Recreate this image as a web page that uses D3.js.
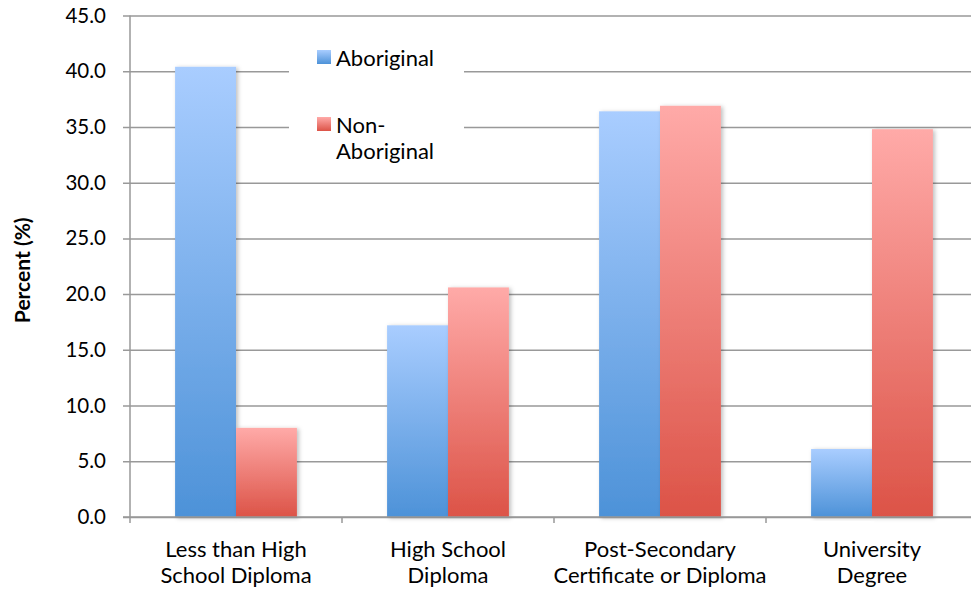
<!DOCTYPE html>
<html>
<head>
<meta charset="utf-8">
<script src="https://cdn.jsdelivr.net/npm/d3@7"></script>
<style>
  html, body { margin: 0; padding: 0; background: #fff; }
  svg { display: block; font-family: Lato, "Open Sans", sans-serif; }
</style>
</head>
<body>
<svg id="chart" width="971" height="591"></svg>
<script>
// Education attainment by group (percent)
const categories = [
  ["Less than High", "School Diploma"],
  ["High School", "Diploma"],
  ["Post-Secondary", "Certificate or Diploma"],
  ["University", "Degree"]
];
const seriesNames = ["Aboriginal", "Non-Aboriginal"];
const aboriginal = [40.4, 17.2, 36.4, 6.1];
const nonAboriginal = [8.0, 20.6, 36.9, 34.8];
const yTicks = [0, 5, 10, 15, 20, 25, 30, 35, 40, 45];

const svg = d3.select("#chart");
const margin = { left: 130, top: 15.5, right: -7, bottom: 74 };
const W = 971, H = 591;
const plotW = W - margin.left - margin.right;
const plotH = H - margin.top - margin.bottom;

const x0 = d3.scaleBand().domain(d3.range(categories.length)).range([0, plotW]).paddingInner(0).paddingOuter(0);
const x1 = d3.scaleBand().domain(seriesNames).range([0, x0.bandwidth()]).paddingInner(0).paddingOuter(0.74);
const y = d3.scaleLinear().domain([0, 45]).range([plotH, 0]);

const defs = svg.append("defs");
const grads = [
  { id: "gAb", top: "#a9cdff", bottom: "#4d92d8" },
  { id: "gNon", top: "#ffaaa8", bottom: "#dc5347" }
];
grads.forEach(g => {
  const lg = defs.append("linearGradient").attr("id", g.id)
    .attr("x1", 0).attr("y1", 0).attr("x2", 0).attr("y2", 1);
  lg.append("stop").attr("offset", "0%").attr("stop-color", g.top);
  lg.append("stop").attr("offset", "100%").attr("stop-color", g.bottom);
});
const shadow = defs.append("filter").attr("id", "shadow")
  .attr("x", "-20%").attr("y", "-5%").attr("width", "150%").attr("height", "110%");
shadow.append("feDropShadow").attr("dx", 2).attr("dy", 1).attr("stdDeviation", 2)
  .attr("flood-color", "#000").attr("flood-opacity", 0.25);

const g = svg.append("g").attr("transform", `translate(${margin.left},${margin.top})`);

// horizontal gridlines with left tick stubs
const yAxis = d3.axisLeft(y).tickValues(yTicks).tickFormat(d3.format(".1f"))
  .tickSize(-plotW).tickSizeOuter(0).tickPadding(24);
const ya = g.append("g").call(yAxis);
ya.select(".domain").remove();
ya.selectAll(".tick line").attr("stroke", "#999").attr("stroke-width", 1.5).attr("x1", -7);
ya.selectAll(".tick text").attr("font-size", 20.5).attr("fill", "#000")
  .attr("font-family", "Lato, 'Open Sans', sans-serif");

// bars
const data = categories.map((c, i) => ({ i, vals: [aboriginal[i], nonAboriginal[i]] }));
const grp = g.selectAll(".cat").data(data).join("g")
  .attr("transform", d => `translate(${x0(d.i)},0)`);
grp.selectAll("rect").data(d => d.vals.map((v, k) => ({ v, k })))
  .join("rect")
  .attr("x", d => x1(seriesNames[d.k]))
  .attr("width", x1.bandwidth())
  .attr("y", d => y(d.v))
  .attr("height", d => plotH - y(d.v))
  .attr("fill", d => d.k === 0 ? "url(#gAb)" : "url(#gNon)")
  .attr("filter", "url(#shadow)");

// y axis line
g.append("line").attr("x1", 0).attr("x2", 0).attr("y1", 0).attr("y2", plotH + 6)
  .attr("stroke", "#999").attr("stroke-width", 1.5);

// x axis baseline and category separators
g.append("line").attr("x1", -7).attr("x2", plotW).attr("y1", plotH).attr("y2", plotH)
  .attr("stroke", "#999").attr("stroke-width", 1.5);
g.selectAll(".sep").data(d3.range(1, categories.length)).join("line")
  .attr("x1", d => x0(d)).attr("x2", d => x0(d))
  .attr("y1", plotH).attr("y2", plotH + 6)
  .attr("stroke", "#999").attr("stroke-width", 1.5);

// category labels
const lbl = g.selectAll(".xl").data(categories).join("text")
  .attr("text-anchor", "middle")
  .attr("font-size", 22)
  .attr("fill", "#000")
  .attr("transform", (d, i) => `translate(${x0(i) + x0.bandwidth() / 2},${plotH + 40})`);
lbl.selectAll("tspan").data(d => d).join("tspan")
  .attr("x", 0).attr("dy", (d, k) => k === 0 ? 0 : 26).text(d => d);

// y axis title
svg.append("text")
  .attr("transform", `translate(30,${margin.top + plotH / 2 + 4}) rotate(-90)`)
  .attr("text-anchor", "middle").attr("font-size", 21).attr("font-weight", "bold")
  .attr("fill", "#000").text("Percent (%)");

// legend
const leg = svg.append("g");
leg.append("rect").attr("x", 289).attr("y", 38).attr("width", 175).attr("height", 130).attr("fill", "#fff");
const legItems = [
  { lines: ["Aboriginal"], grad: "url(#gAb)", y: 50 },
  { lines: ["Non-", "Aboriginal"], grad: "url(#gNon)", y: 117 }
];
legItems.forEach(it => {
  leg.append("rect").attr("x", 317).attr("y", it.y).attr("width", 14).attr("height", 14).attr("fill", it.grad);
  const t = leg.append("text").attr("font-size", 22).attr("fill", "#000")
    .attr("transform", `translate(336,${it.y + 16})`);
  t.selectAll("tspan").data(it.lines).join("tspan")
    .attr("x", 0).attr("dy", (d, k) => k === 0 ? 0 : 26).text(d => d);
});
</script>
</body>
</html>
